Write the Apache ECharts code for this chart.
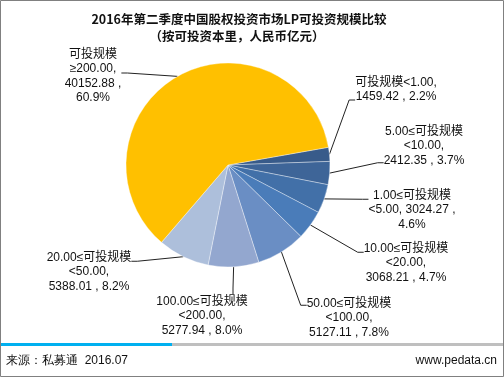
<!DOCTYPE html>
<html><head><meta charset="utf-8">
<script src="https://cdn.jsdelivr.net/npm/echarts@6/dist/echarts.min.js"></script>
<style>html,body{margin:0;padding:0;background:#fff}#c{width:504px;height:377px}</style>
</head><body><div id="c"></div>
<script>
const categories = ['可投规模<1.00','5.00≤可投规模<10.00','1.00≤可投规模<5.00','10.00≤可投规模<20.00','50.00≤可投规模<100.00','100.00≤可投规模<200.00','20.00≤可投规模<50.00','可投规模≥200.00'];
const values = [1459.42, 2412.35, 3024.27, 3068.21, 5127.11, 5277.94, 5388.01, 40152.88];
const percents = ['2.2%','3.7%','4.6%','4.7%','7.8%','8.0%','8.2%','60.9%'];
const labelTexts = [
  '可投规模<1.00,\n1459.42 , 2.2%',
  '5.00≤可投规模\n<10.00,\n2412.35 , 3.7%',
  '1.00≤可投规模\n<5.00, 3024.27 ,\n4.6%',
  '10.00≤可投规模\n<20.00,\n3068.21 , 4.7%',
  '50.00≤可投规模\n<100.00,\n5127.11 , 7.8%',
  '100.00≤可投规模\n<200.00,\n5277.94 , 8.0%',
  '20.00≤可投规模\n<50.00,\n5388.01 , 8.2%',
  '可投规模\n≥200.00,\n40152.88 ,\n60.9%'
];
const colors = ['#385B8A','#3E6598','#4270A8','#4A7CB9','#6A8EC4','#93A7CF','#ADBFDB','#FFC000'];
// label layout: text center-x, text top-y, and padding [top,right,bottom,left] to steer the leader line anchor
const labelPos = [[396,75],[424,124],[412,188],[406,241],[349,296],[202,294],[89,250],[93,47]];
const labelPad = [[0,0,21,0],[0,0,34,0],[21,0,0,0],[21,0,0,0],[25,0,0,0],[0,62,0,0],[21,0,0,0],[6,0,0,0]];

const chart = echarts.init(document.getElementById('c'), null, {renderer:'canvas'});
const FONT = '"Liberation Sans", Arial, "Noto Sans CJK SC", sans-serif';
chart.setOption({
  backgroundColor:'#fff',
  animation:false,
  title:[
    {text:'2016年第二季度中国股权投资市场LP可投资规模比较', left:234, top:8, textAlign:'center',
     textStyle:{fontSize:12.5, fontWeight:'bold', color:'#111', fontFamily:'"Noto Sans CJK SC", sans-serif'}},
    {text:'（按可投资本里，人民币亿元）', left:232, top:25, textAlign:'center',
     textStyle:{fontSize:12.5, fontWeight:'bold', color:'#111', fontFamily:'"Noto Sans CJK SC", sans-serif'}}
  ],
  series:[{
    type:'pie',
    center:[228,165],
    radius:[0,102],
    startAngle:10,
    clockwise:true,
    data: categories.map((c,i)=>({name:c, value:values[i], itemStyle:{color:colors[i]},
      label:{padding:labelPad[i], backgroundColor:'rgba(255,255,255,0)'}})),
    itemStyle:{borderColor:'rgba(255,255,255,0.6)', borderWidth:0.6},
    label:{show:true, position:'outside', color:'#111', fontSize:12, lineHeight:14.5,
      fontFamily:FONT, align:'center',
      formatter:p=>labelTexts[p.dataIndex]},
    labelLine:{show:true, length:15, length2:6, minTurnAngle:0, lineStyle:{color:'#222', width:1}},
    labelLayout:function(p){
      const i = p.dataIndex, pos = labelPos[i], pad = labelPad[i];
      return {x:pos[0] + (pad[1]-pad[3])/2, y:pos[1]-pad[0], align:'center', verticalAlign:'top'};
    }
  }],
  graphic:[
    {type:'rect', shape:{x:0,y:343,width:172,height:3}, style:{fill:'#00B0F0'}},
    {type:'rect', shape:{x:172,y:343,width:332,height:3}, style:{fill:'#BFBFBF'}},
    {type:'text', left:6, top:355, style:{text:'来源：私募通  2016.07', fontSize:12, fill:'#111', font:'12px '+FONT}},
    {type:'text', right:7, top:355, style:{text:'www.pedata.cn', fontSize:12, fill:'#111', font:'12px '+FONT}},
    {type:'rect', shape:{x:0.5,y:0.5,width:503,height:376}, style:{fill:'none', stroke:'#808080', lineWidth:1}, z:100}
  ]
});
</script></body></html>
